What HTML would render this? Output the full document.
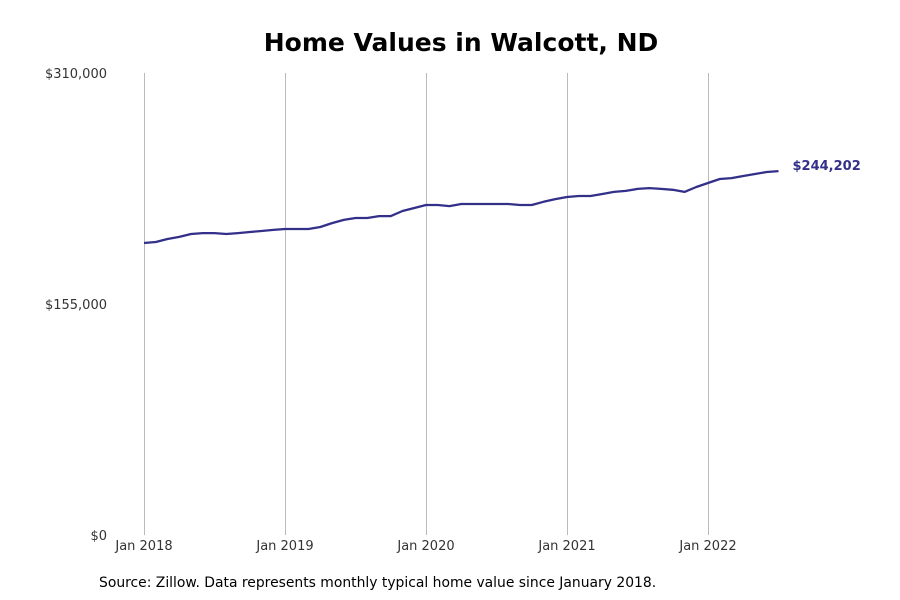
<!DOCTYPE html>
<html><head><meta charset="utf-8"><style>
body{margin:0;background:#fff;}
svg{display:block;font-family:"DejaVu Sans","Liberation Sans",sans-serif;}
</style></head><body>
<svg id="chart" width="900" height="600">
<text x="461" y="51" text-anchor="middle" font-size="25" font-weight="bold" fill="#000">Home Values in Walcott, ND</text>
<g id="grid"></g>
<g id="yticks"></g>
<g id="xticks"></g>
<path id="line" fill="none" stroke="#33308a" stroke-width="2.3" stroke-linejoin="round"/>
<text id="endlabel" font-size="13" font-weight="bold" fill="#33308a"></text>
<text x="99" y="587" font-size="13.9" fill="#000">Source: Zillow. Data represents monthly typical home value since January 2018.</text>
</svg>
<script>
const values = [195.9,196.6,198.6,200.0,202.0,202.6,202.6,202.0,202.6,203.3,204.0,204.7,205.3,205.3,205.3,206.7,209.3,211.4,212.7,212.7,214.0,214.0,217.4,219.4,221.4,221.4,220.7,222.1,222.1,222.1,222.1,222.1,221.4,221.4,223.6,225.4,226.8,227.5,227.5,228.8,230.2,230.9,232.2,232.8,232.2,231.6,230.2,233.5,236.2,238.9,239.5,240.9,242.2,243.6,244.202];
const yTickValues = [0,155000,310000];
const yTickLabels = ["$0","$155,000","$310,000"];
const xTickMonths = [0,12,24,36,48];
const xTickLabels = ["Jan 2018","Jan 2019","Jan 2020","Jan 2021","Jan 2022"];
const lastLabel = "$244,202";
const NS="http://www.w3.org/2000/svg";
const x = m => 144 + m*(564/48);
const y = v => 535 - v/310000*462;
const grid=document.getElementById('grid'), yt=document.getElementById('yticks'), xt=document.getElementById('xticks');
xTickMonths.forEach((m,i)=>{
  const l=document.createElementNS(NS,'line');
  
  
  l.setAttribute('x1',x(m)+0.5);l.setAttribute('x2',x(m)+0.5);l.setAttribute('y1',73);l.setAttribute('y2',535);
  l.setAttribute('stroke','#bbb');l.setAttribute('stroke-width','1');
  grid.appendChild(l);
  const t=document.createElementNS(NS,'text');
  
  
  t.setAttribute('x',x(m));t.setAttribute('y',550);t.setAttribute('text-anchor','middle');
  t.setAttribute('font-size','13');t.setAttribute('fill','#333');
  t.textContent=xTickLabels[i];xt.appendChild(t);
});
yTickValues.forEach((v,i)=>{
  const t=document.createElementNS(NS,'text');
  
  
  t.setAttribute('x',107);t.setAttribute('y',y(v)+5);t.setAttribute('text-anchor','end');
  t.setAttribute('font-size','13');t.setAttribute('fill','#333');
  t.textContent=yTickLabels[i];yt.appendChild(t);
});
document.getElementById('line').setAttribute('d',values.map((v,i)=>(i?'L':'M')+x(i).toFixed(1)+','+y(v*1000).toFixed(1)).join(''));
const n=values.length-1, el=document.getElementById('endlabel');
el.setAttribute('x',x(n)+14);el.setAttribute('y',y(values[n]*1000)-1);el.textContent=lastLabel;
</script>
</body></html>
